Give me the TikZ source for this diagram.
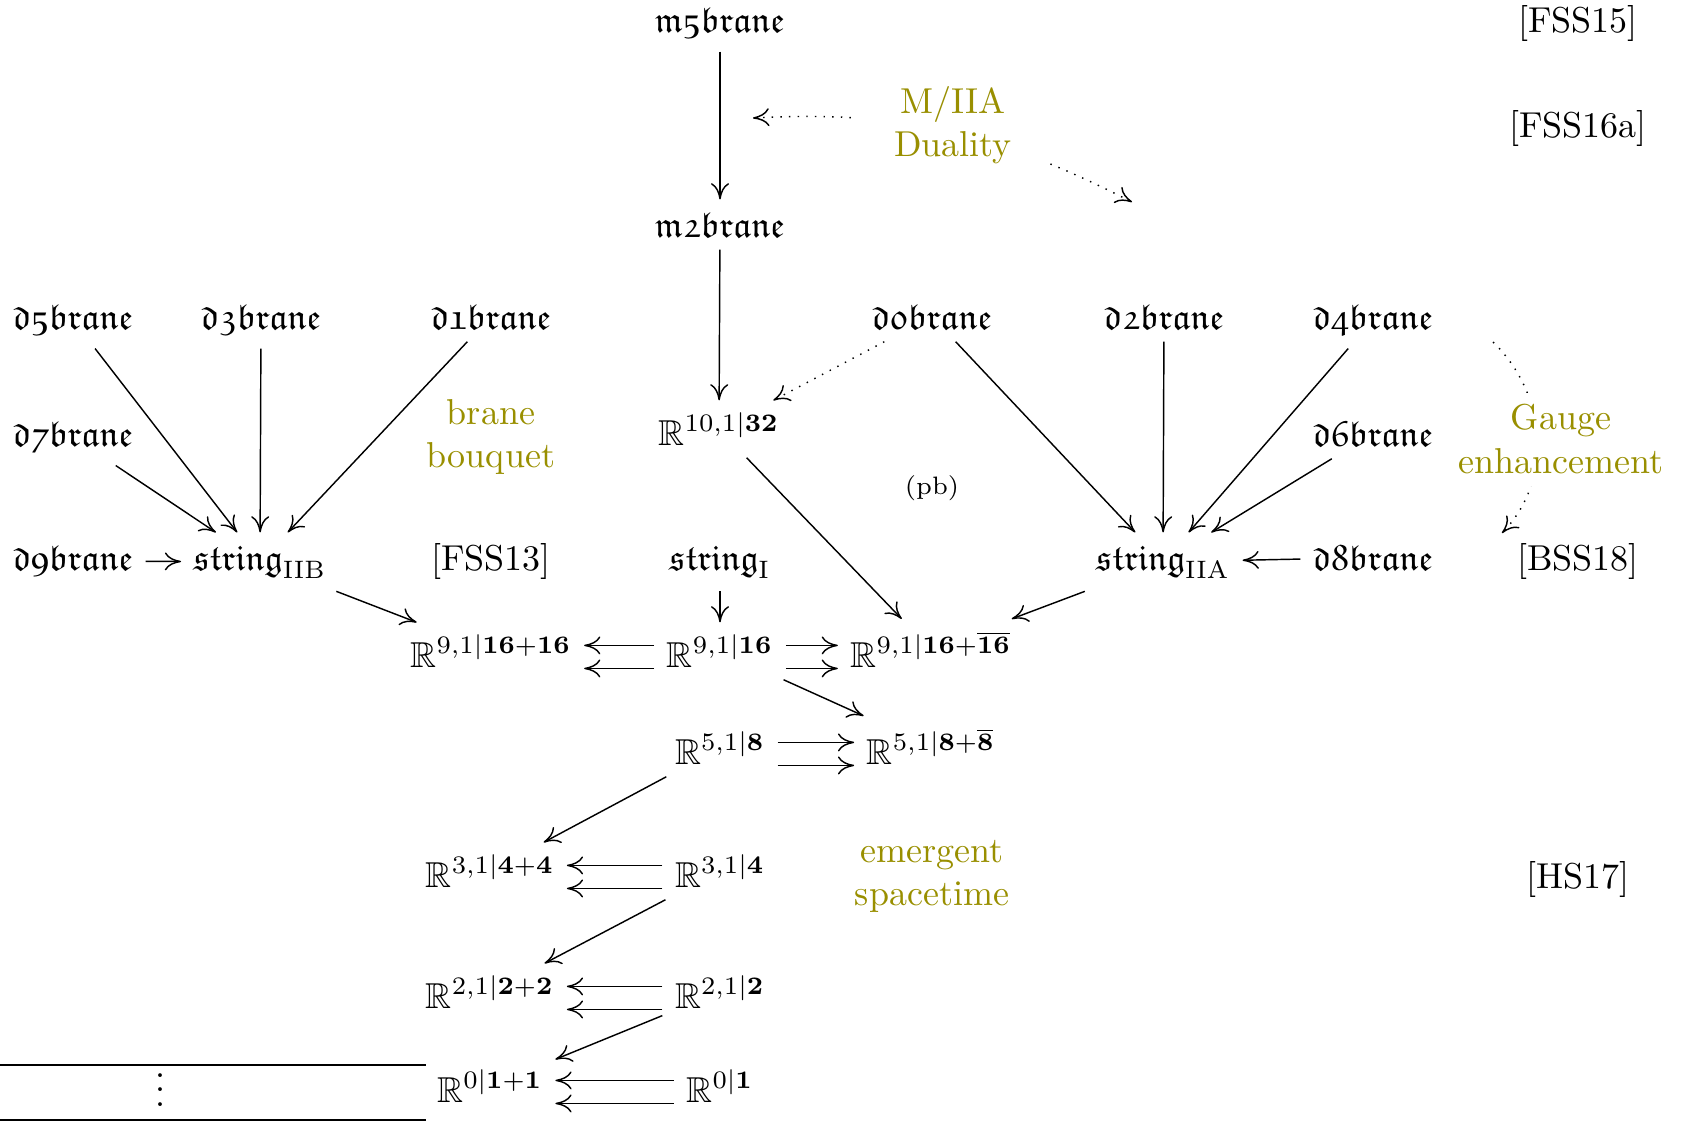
\documentclass[tikz,border=0pt]{standalone}
\usepackage{amsmath}
\usepackage{amsfonts}
\usepackage{amssymb}
\usetikzlibrary{arrows.meta, positioning, calc}
\definecolor{olivetext}{RGB}{153,143,0}
\newcommand{\frk}[1]{\mathfrak{#1}}
\tikzset{%
  cell/.style={anchor=base}, % every entry of the diagram sits on its baseline
  note/.style={text=olivetext, align=center, anchor=center},
  ref/.style={anchor=base},
}

\begin{document}
\begin{tikzpicture}[x=0.2778pt, y=0.2778pt, >={Computer Modern Rightarrow[length=4.5pt,width=5pt]}]

\useasboundingbox (0,0) rectangle (1687,-1126);

\node[cell] (m5) at (720,-32) {$\frk{m5brane}$};
\node[cell] (m2) at (720,-237) {$\frk{m2brane}$};
\node[ref] (fss15) at (1578,-32) {[FSS15]};
\node[ref] (fss16) at (1578,-137) {[FSS16a]};

\node[cell] (d5) at (73,-329) {$\frk{d5brane}$};
\node[cell] (d3) at (261,-329) {$\frk{d3brane}$};
\node[cell] (d1) at (491,-329) {$\frk{d1brane}$};
\node[cell] (d0) at (932,-329) {$\frk{d0brane}$};
\node[cell] (d2) at (1164,-329) {$\frk{d2brane}$};
\node[cell] (d4) at (1373,-329) {$\frk{d4brane}$};

\node[cell] (d7) at (73,-446) {$\frk{d7brane}$};
\node[cell] (r101) at (719,-445) {$\mathbb{R}^{10,1\vert\mathbf{32}}$};
\node[cell] (d6) at (1373,-446) {$\frk{d6brane}$};
\node[cell, font=\scriptsize] (pb) at (932,-494) {(pb)};

\node[cell] (d9) at (73,-570) {$\frk{d9brane}$};
\node[cell] (sIIB) at (260,-570) {$\frk{string}_{\mathrm{IIB}}$};
\node[ref] (fss13) at (491,-570) {[FSS13]};
\node[cell] (sI) at (720,-570) {$\frk{string}_{\mathrm{I}}$};
\node[cell] (sIIA) at (1163,-570) {$\frk{string}_{\mathrm{IIA}}$};
\node[cell] (d8) at (1373,-570) {$\frk{d8brane}$};
\node[ref] (bss18) at (1578,-570) {[BSS18]};

\node[cell] (r91pp) at (491,-667) {$\mathbb{R}^{9,1\vert\mathbf{16}+\mathbf{16}}$};
\node[cell] (r91) at (720,-667) {$\mathbb{R}^{9,1\vert\mathbf{16}}$};
\node[cell] (r91pb) at (931,-667) {$\mathbb{R}^{9,1\vert\mathbf{16}+\overline{\mathbf{16}}}$};
\node[cell] (r51) at (720,-764) {$\mathbb{R}^{5,1\vert\mathbf{8}}$};
\node[cell] (r51pb) at (931,-764) {$\mathbb{R}^{5,1\vert\mathbf{8}+\overline{\mathbf{8}}}$};
\node[cell] (r31pp) at (490,-887) {$\mathbb{R}^{3,1\vert\mathbf{4}+\mathbf{4}}$};
\node[cell] (r31) at (720,-887) {$\mathbb{R}^{3,1\vert\mathbf{4}}$};
\node[ref] (hs17) at (1578,-888) {[HS17]};
\node[cell] (r21pp) at (490,-1008) {$\mathbb{R}^{2,1\vert\mathbf{2}+\mathbf{2}}$};
\node[cell] (r21) at (720,-1008) {$\mathbb{R}^{2,1\vert\mathbf{2}}$};
\node[cell] (r0pp) at (490,-1102) {$\mathbb{R}^{0\vert\mathbf{1}+\mathbf{1}}$};
\node[cell] (r0) at (720,-1102) {$\mathbb{R}^{0\vert\mathbf{1}}$};

\node[note] (bouquet) at (491,-437) {brane\\bouquet};
\node[note] (spacetime) at (932,-876) {emergent\\spacetime};

% the table rows on the left
\coordinate (rowtl) at (0,-1065);
\coordinate (rowtr) at (426,-1065);
\coordinate (rowbl) at (0,-1120);
\coordinate (rowbr) at (426,-1120);
\draw (rowtl) -- (rowtr);
\draw (rowbl) -- (rowbr);
\node (dots) at (161,-1079) {$\vdots$};

\draw[->] (m5) -- (m2);
\draw[->] (m2) -- (r101);
\draw[->, dotted] (d0) -- (r101);

\draw[->] (d5) -- (sIIB);
\draw[->] (d3) -- (sIIB);
\draw[->] (d1) -- (sIIB);
\draw[->] (d7) -- (sIIB);
\draw[->] (d9) -- (sIIB);

\draw[->] (d0) -- (sIIA);
\draw[->] (d2) -- (sIIA);
\draw[->] (d4) -- (sIIA);
\draw[->] (d6) -- (sIIA);
\draw[->] (d8) -- (sIIA);

\draw[->] (sIIB) -- (r91pp);
\draw[->] (sI) -- (r91);
\draw[->] (r101) -- (r91pb);
\draw[->] (sIIA) -- (r91pb);

\draw[->] ([yshift=6pt]r91.base west) -- ([yshift=6pt]r91pp.base east);
\draw[->] ([yshift=-0.4pt]r91.base west) -- ([yshift=-0.4pt]r91pp.base east);
\draw[->] ([yshift=6pt]r91.base east) -- ([yshift=6pt]r91pb.base west);
\draw[->] ([yshift=-0.4pt]r91.base east) -- ([yshift=-0.4pt]r91pb.base west);
\draw[->] (r91) -- (r51pb);

\draw[->] ([yshift=6pt]r51.base east) -- ([yshift=6pt]r51pb.base west);
\draw[->] ([yshift=-0.4pt]r51.base east) -- ([yshift=-0.4pt]r51pb.base west);
\draw[->] (r51) -- (r31pp);

\draw[->] ([yshift=6pt]r31.base west) -- ([yshift=6pt]r31pp.base east);
\draw[->] ([yshift=-0.4pt]r31.base west) -- ([yshift=-0.4pt]r31pp.base east);
\draw[->] (r31) -- (r21pp);

\draw[->] ([yshift=6pt]r21.base west) -- ([yshift=6pt]r21pp.base east);
\draw[->] ([yshift=-0.4pt]r21.base west) -- ([yshift=-0.4pt]r21pp.base east);
\draw[->] (r21) -- (r0pp);

\draw[->] ([yshift=6pt]r0.base west) -- ([yshift=6pt]r0pp.base east);
\draw[->] ([yshift=-0.4pt]r0.base west) -- ([yshift=-0.4pt]r0pp.base east);

% dualities
\coordinate (dualL) at (753,-118);
\coordinate (dualR) at (1132,-202);
\draw[<->, dotted] (dualL) to[out=3, in=153] (dualR);
\node[note, fill=white, inner xsep=10pt] (duality) at (953,-125) {M/IIA\\Duality};

\coordinate (gaugeT) at (1493,-342);
\coordinate (gaugeB) at (1502,-533);
\draw[->, dotted] (gaugeT) to[out=-44, in=46] (gaugeB);
\node[note, fill=white] (gauge) at (1561,-439) {Gauge\\enhancement};

\end{tikzpicture}
\end{document}
